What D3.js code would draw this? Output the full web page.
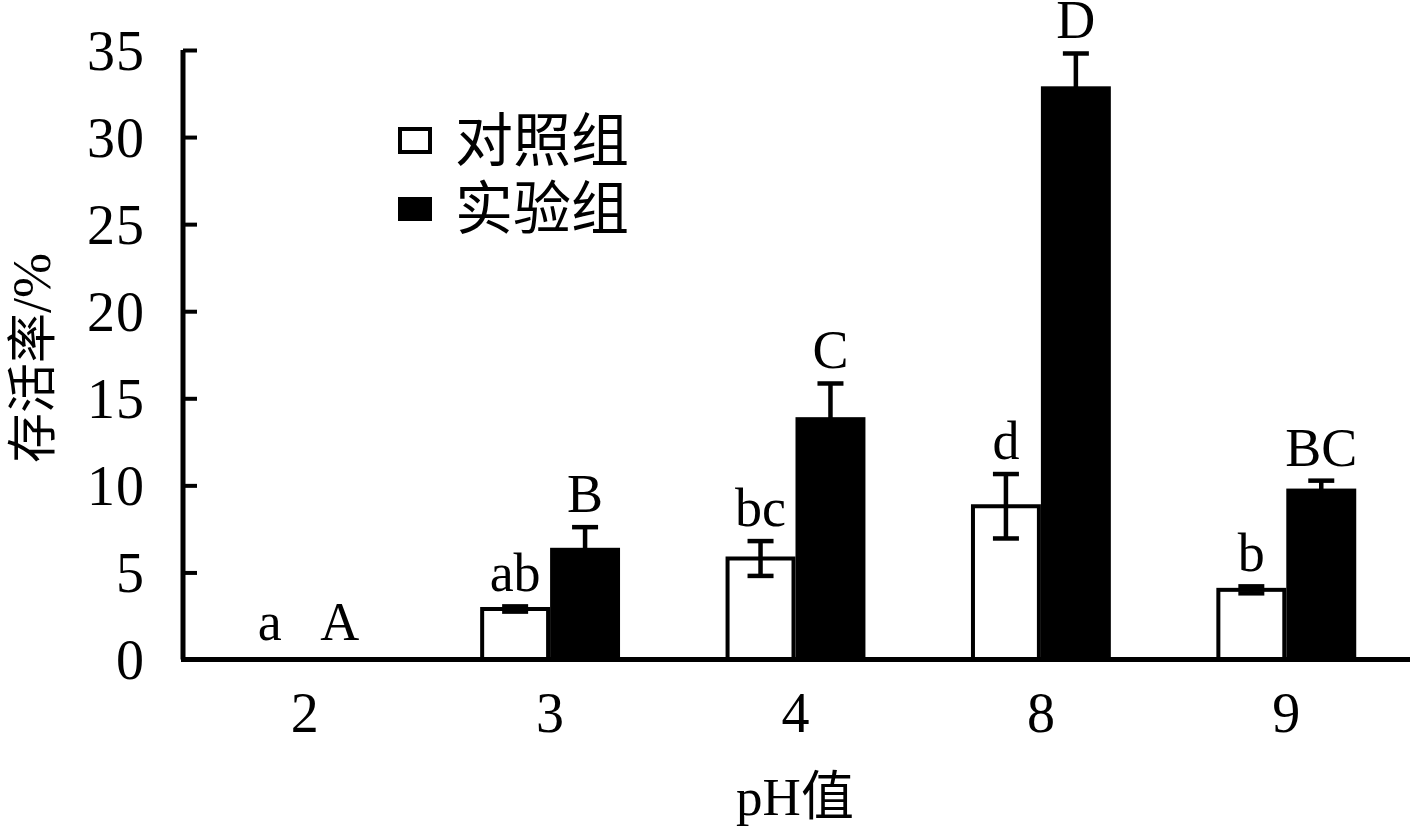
<!DOCTYPE html>
<html>
<head>
<meta charset="utf-8">
<script src="https://cdn.jsdelivr.net/npm/d3@7/dist/d3.min.js"></script>
<style>
  html, body { margin: 0; padding: 0; background: #fff; }
  svg { display: block; }
  text { font-family: "Liberation Serif", "Noto Sans CJK SC", serif; fill: #000; }
</style>
</head>
<body>
<svg id="chart" width="1410" height="831"></svg>
<script>
// ---- data ----
const categories = ["2", "3", "4", "8", "9"];
const controlValues = [0, 2.9, 5.8, 8.8, 4.0];
const controlErrors = [0, 0.15, 1.0, 1.85, 0.2];
const controlLetters = ["a", "ab", "bc", "d", "b"];
const treatValues = [0, 6.3, 13.8, 32.8, 9.7];
const treatErrors = [0, 1.3, 2.05, 2.0, 0.57];
const treatLetters = ["A", "B", "C", "D", "BC"];
const yTicks = [0, 5, 10, 15, 20, 25, 30, 35];
const seriesNames = ["对照组", "实验组"];
const xTitle = "pH值";
const yTitleCJK = "存活率";
const yTitleUnit = "/%";

const svg = d3.select("#chart");

const x = d3.scaleBand().domain(categories).range([182, 1409]).padding(0);
const y = d3.scaleLinear().domain([0, 35]).range([659.5, 50]);
const barW = x.bandwidth() * 0.285;

const series = [
  { name: seriesNames[0], values: controlValues, errors: controlErrors, letters: controlLetters, fill: "#fff", offset: -barW, lower: true },
  { name: seriesNames[1], values: treatValues, errors: treatErrors, letters: treatLetters, fill: "#000", offset: 0, lower: false }
];

const center = c => x(c) + x.bandwidth() / 2;

// bars
series.forEach(s => {
  const g = svg.append("g");
  g.selectAll("rect").data(categories.map((c, i) => ({ c, v: s.values[i] })).filter(d => d.v > 0))
    .join("rect")
    .attr("x", d => center(d.c) + s.offset + 2)
    .attr("y", d => y(d.v))
    .attr("width", barW - 4)
    .attr("height", d => y(0) - y(d.v))
    .attr("fill", s.fill)
    .attr("stroke", "#000")
    .attr("stroke-width", 4);
});

// error bars
series.forEach(s => {
  const g = svg.append("g").attr("stroke", "#000").attr("stroke-width", 4.5);
  categories.forEach((c, i) => {
    const v = s.values[i], e = s.errors[i];
    if (e <= 0) return;
    const cx = center(c) + s.offset + barW / 2;
    const lo = s.lower ? v - e : v;
    g.append("line").attr("x1", cx).attr("x2", cx).attr("y1", y(lo)).attr("y2", y(v + e));
    const caps = s.lower ? [v - e, v + e] : [v + e];
    caps.forEach(t => {
      g.append("line").attr("x1", cx - 13).attr("x2", cx + 13).attr("y1", y(t)).attr("y2", y(t));
    });
  });
});

// significance letters
series.forEach(s => {
  svg.append("g").selectAll("text").data(categories.map((c, i) => ({ c, i })))
    .join("text")
    .attr("x", d => center(d.c) + s.offset + barW / 2)
    .attr("y", d => {
      const top = y(s.values[d.i] + s.errors[d.i]);
      return s.values[d.i] === 0 ? y(0) - 20 : top - 15;
    })
    .attr("text-anchor", "middle")
    .attr("font-size", 54)
    .text(d => s.letters[d.i]);
});

// y axis
const yAxis = d3.axisLeft(y).tickValues(yTicks).tickSize(-14).tickPadding(38).tickFormat(d3.format("d"));
const gy = svg.append("g").attr("transform", "translate(183,0)").call(yAxis);
gy.select(".domain").attr("stroke-width", 5).attr("d", `M0,${y(35)}V${y(0)}`);
gy.selectAll(".tick line").attr("stroke-width", 4);
gy.selectAll(".tick text").attr("font-size", 56).attr("font-family", "Liberation Serif")
  .attr("dy", "0.34em").attr("letter-spacing", 1);

// x axis
const xAxis = d3.axisBottom(x).tickSize(0).tickPadding(33);
const gx = svg.append("g").attr("transform", `translate(0,${y(0)})`).call(xAxis);
gx.select(".domain").attr("stroke-width", 5).attr("d", "M181,0H1410");
gx.selectAll(".tick text").attr("font-size", 56).attr("font-family", "Liberation Serif");

// axis titles
svg.append("text").attr("x", 795).attr("y", 815).attr("text-anchor", "middle")
  .attr("font-size", 53).text(xTitle);
const yt = svg.append("text").attr("transform", "translate(50,358) rotate(-90)").attr("text-anchor", "middle");
yt.append("tspan").attr("font-size", 50).text(yTitleCJK);
yt.append("tspan").attr("font-size", 54).attr("font-family", "Liberation Serif").text(yTitleUnit);

// legend
const lg = svg.append("g");
lg.append("rect").attr("x", 400).attr("y", 129).attr("width", 30).attr("height", 23)
  .attr("fill", "#fff").attr("stroke", "#000").attr("stroke-width", 4);
lg.append("rect").attr("x", 398).attr("y", 197).attr("width", 34).attr("height", 24).attr("fill", "#000");
lg.append("text").attr("x", 455).attr("y", 161).attr("font-size", 58).text(seriesNames[0]);
lg.append("text").attr("x", 455).attr("y", 229).attr("font-size", 58).text(seriesNames[1]);
</script>
</body>
</html>
